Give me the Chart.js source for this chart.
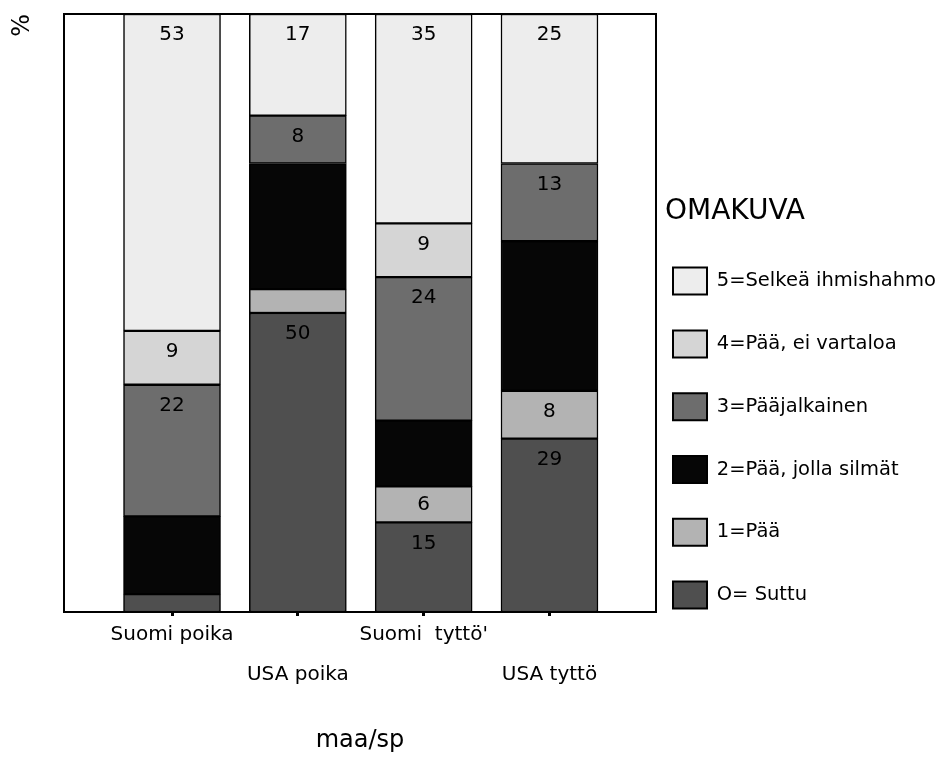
<!DOCTYPE html>
<html><head><meta charset="utf-8">
<script src="https://cdn.jsdelivr.net/npm/chart.js@4"></script>
<style>html,body{margin:0;padding:0;background:#fff}</style>
</head><body>
<canvas id="c" width="944" height="760"></canvas>
<script>
const categories = ['Suomi poika', 'USA poika', "Suomi  tyttö'", 'USA tyttö'];
const seriesNames = ['O= Suttu', '1=Pää', '2=Pää, jolla silmät', '3=Pääjalkainen', '4=Pää, ei vartaloa', '5=Selkeä ihmishahmo'];
const suttu        = [3, 50, 15, 29];
const paa          = [0, 4, 6, 8];
const silmat       = [13, 21, 11, 25];
const paajalkainen = [22, 8, 24, 13];
const eiVartaloa   = [9, 0, 9, 0];
const ihmishahmo   = [53, 17, 35, 25];
const seriesValues = [suttu, paa, silmat, paajalkainen, eiVartaloa, ihmishahmo];
const seriesColors = ['#4f4f4f', '#b3b3b3', '#060606', '#6d6d6d', '#d5d5d5', '#ededed'];
const unlabeledSeries = ['2=Pää, jolla silmät'];
const xTitle = 'maa/sp';
const yTitle = '%';
const legendTitle = 'OMAKUVA';

const FONT = '"DejaVu Sans", sans-serif';
Chart.defaults.font.family = FONT;
Chart.defaults.color = '#000';

// legend geometry
const legendFontSize = 19.5, legendBoxW = 34, legendPad = 8, legendGap = 9;
const plotRight = 656;
const mctx = document.createElement('canvas').getContext('2d');
mctx.font = legendFontSize + 'px ' + FONT;
const maxLegendText = Math.max(...seriesNames.map(n => mctx.measureText(n).width));
const legendWidth = legendPad + legendBoxW + legendFontSize / 2 + maxLegendText + 10;
const rightPad = 944 - plotRight - legendGap - legendWidth;

const datasets = seriesNames.map((name, s) => ({
  label: name,
  data: seriesValues[s].map((v, i) => ({x: i, y: v})),
  backgroundColor: seriesColors[s],
  borderColor: '#000',
  borderWidth: 1.5,
  borderSkipped: false,
  barThickness: 97
}));

const valueLabels = {
  id: 'valueLabels',
  afterDatasetsDraw(chart) {
    const ctx = chart.ctx;
    ctx.save();
    ctx.font = '20px ' + FONT;
    ctx.textAlign = 'center';
    ctx.textBaseline = 'middle';
    ctx.fillStyle = '#000';
    chart.data.datasets.forEach((ds, di) => {
      if (unlabeledSeries.includes(ds.label)) return;
      const meta = chart.getDatasetMeta(di);
      meta.data.forEach((el, i) => {
        const v = ds.data[i].y;
        if (v < 5) return;
        const top = Math.min(el.y, el.base), bottom = Math.max(el.y, el.base);
        const y = Math.min(top + 21, (top + bottom) / 2);
        ctx.fillText(String(v), el.x, y);
      });
    });
    ctx.restore();
  }
};

const frame = {
  id: 'frame',
  afterDatasetsDraw(chart) {
    const {left, top, right, bottom} = chart.chartArea;
    const ctx = chart.ctx;
    ctx.save();
    ctx.strokeStyle = '#000';
    ctx.lineWidth = 2;
    ctx.strokeRect(left, top, right - left, bottom - top);
    ctx.restore();
  }
};

new Chart(document.getElementById('c'), {
  type: 'bar',
  data: {datasets},
  options: {
    responsive: false,
    animation: false,
    layout: {padding: {left: 0, top: 14, right: rightPad, bottom: 0}},
    scales: {
      x: {
        type: 'linear',
        bounds: 'data',
        offset: false,
        min: -0.8585,
        max: 3.8466,
        stacked: true,
        afterBuildTicks: (scale) => { scale.ticks = categories.map((c, i) => ({value: i})); },
        afterFit: (scale) => { scale.height = 148; },
        ticks: {
          autoSkip: false, maxRotation: 0, minRotation: 0, padding: -1,
          font: {size: 20, lineHeight: 2.0},
          callback: (v) => (v % 2 === 0 ? [categories[v], ''] : ['', categories[v]])
        },
        grid: {display: true, offset: false, drawOnChartArea: false, drawTicks: true, tickLength: 4, tickWidth: 3, tickColor: '#000'},
        border: {display: true, color: '#000', width: 2},
        title: {display: true, text: xTitle, font: {size: 24}, padding: {top: 0, bottom: 5}}
      },
      y: {
        min: 0, max: 100, stacked: true,
        afterFit: (scale) => { scale.width = 64; },
        ticks: {display: false},
        grid: {display: false},
        border: {display: true, color: '#000', width: 2},
        title: {display: true, text: yTitle, align: 'end', font: {size: 24}, padding: {top: 8, bottom: 0}}
      },
      gap: {
        type: 'linear', position: 'right', display: true,
        afterFit: (scale) => { scale.width = legendGap; },
        ticks: {display: false},
        grid: {display: false},
        border: {display: false}
      }
    },
    plugins: {
      tooltip: {enabled: false},
      legend: {
        position: 'right',
        align: 'start',
        reverse: true,
        maxWidth: 600,
        title: {display: true, text: legendTitle, position: 'start', font: {size: 28}, color: '#000', padding: {top: 184, bottom: 28}},
        labels: {
          boxWidth: legendBoxW, boxHeight: 27, padding: legendPad,
          font: {size: legendFontSize, lineHeight: 54.8 / legendFontSize},
          color: '#000',
          generateLabels: (chart) => Chart.defaults.plugins.legend.labels.generateLabels(chart).map(l => Object.assign(l, {text: [l.text], lineWidth: 2}))
        }
      }
    }
  },
  plugins: [valueLabels, frame]
});
</script>
</body></html>
